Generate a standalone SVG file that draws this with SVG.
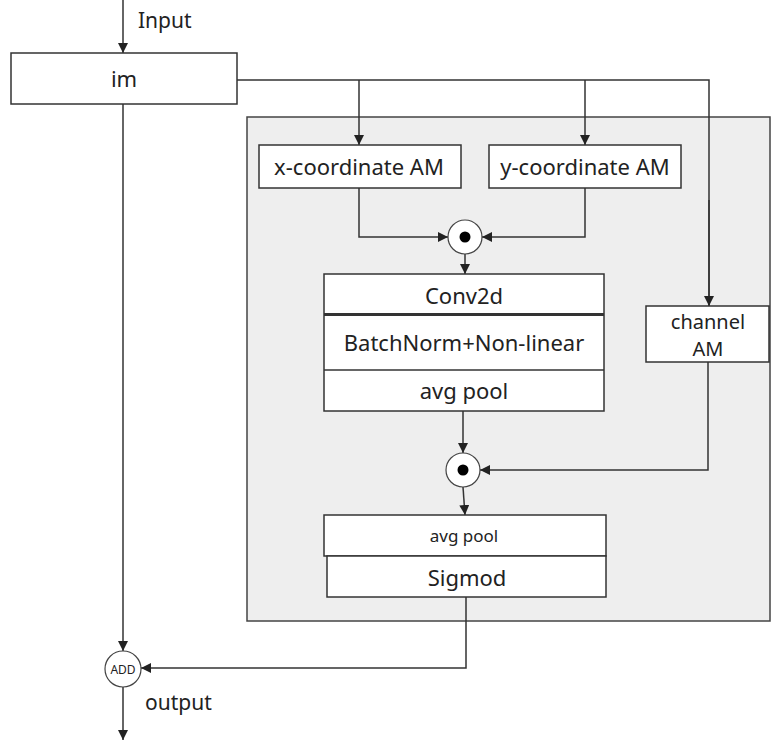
<svg xmlns="http://www.w3.org/2000/svg" width="771" height="741" viewBox="0 0 771 741">
<defs>
<marker id="arr" viewBox="0 0 10 10" refX="10" refY="5" markerWidth="10" markerHeight="10" markerUnits="userSpaceOnUse" orient="auto">
<path d="M0,0 L10,5 L0,10 z" fill="#222"/>
</marker>
</defs>
<style>
.box{fill:#fff;stroke:#333;stroke-width:1.5}
.panel{fill:#eeeeee;stroke:#444;stroke-width:1.5}
.ln{fill:none;stroke:#333;stroke-width:1.5}
.ar{fill:none;stroke:#333;stroke-width:1.5;marker-end:url(#arr)}
.t{font-family:"Noto Sans","Open Sans","Liberation Sans",sans-serif;font-size:22px;fill:#222;text-anchor:middle}
.ts{font-family:"Noto Sans","Open Sans","Liberation Sans",sans-serif;font-size:20px;fill:#222;text-anchor:middle}
.tl{font-family:"Noto Sans","Open Sans","Liberation Sans",sans-serif;font-size:21px;fill:#222}
</style>
<rect class="panel" x="247" y="117" width="523" height="504"/>
<g id="connectors">
<line class="ar" x1="123" y1="0" x2="123" y2="53"/>
<polyline class="ln" points="237,80 709,80 709,306"/>
<line class="ar" x1="709" y1="200" x2="709" y2="306"/>
<line class="ar" x1="359" y1="80" x2="359" y2="145"/>
<line class="ar" x1="585" y1="80" x2="585" y2="145"/>
<polyline class="ar" points="359,188 359,237 448,237"/>
<polyline class="ar" points="585,188 585,237 482,237"/>
<line class="ar" x1="465" y1="254" x2="465" y2="274"/>
<line class="ar" x1="463" y1="411" x2="463" y2="453"/>
<polyline class="ar" points="708,362 708,470 480,470"/>
<line class="ar" x1="463" y1="487" x2="465" y2="515"/>
<polyline class="ar" points="466,597 466,668 141,668"/>
<line class="ar" x1="123" y1="104" x2="123" y2="651"/>
<line class="ar" x1="123" y1="687" x2="123" y2="740"/>
</g>
<g id="input-label"><text class="tl" x="138" y="28">Input</text></g>
<g id="im"><rect class="box" x="11" y="53" width="226" height="51"/><text class="t" x="124" y="87">im</text></g>
<g id="x-am"><rect class="box" x="259" y="145" width="202" height="43"/><text class="t" x="359" y="175">x-coordinate AM</text></g>
<g id="y-am"><rect class="box" x="489" y="145" width="192" height="43"/><text class="t" x="585" y="175">y-coordinate AM</text></g>
<g id="mul1"><circle cx="465" cy="237" r="17" fill="#fff" stroke="#444" stroke-width="1.2"/><circle cx="465" cy="237" r="5.5" fill="#000"/></g>
<g id="conv-block">
<rect class="box" x="324" y="274" width="280" height="137"/>
<line x1="324" y1="314.5" x2="604" y2="314.5" stroke="#333" stroke-width="3"/>
<line class="ln" x1="324" y1="370" x2="604" y2="370"/>
<text class="t" x="464" y="304">Conv2d</text>
<text class="t" x="464" y="351">BatchNorm+Non-linear</text>
<text class="t" x="464" y="399">avg pool</text>
</g>
<g id="channel-am"><rect class="box" x="646" y="306" width="123" height="56"/><text class="ts" x="708" y="329">channel</text><text class="ts" x="708" y="356">AM</text></g>
<g id="mul2"><circle cx="463" cy="470" r="17" fill="#fff" stroke="#444" stroke-width="1.2"/><circle cx="463" cy="470" r="5.5" fill="#000"/></g>
<g id="pool-sig">
<rect class="box" x="324" y="515" width="282" height="41"/>
<rect class="box" x="327" y="556" width="279" height="41"/>
<text class="t" x="464" y="542" style="font-size:17px">avg pool</text>
<text class="t" x="467" y="586">Sigmod</text>
</g>
<g id="add"><circle cx="123" cy="669" r="18" fill="#fff" stroke="#444" stroke-width="1.2"/><text class="ts" x="123" y="673.5" style="font-size:12px">ADD</text></g>
<g id="output-label"><text class="tl" x="145" y="710">output</text></g>
</svg>
